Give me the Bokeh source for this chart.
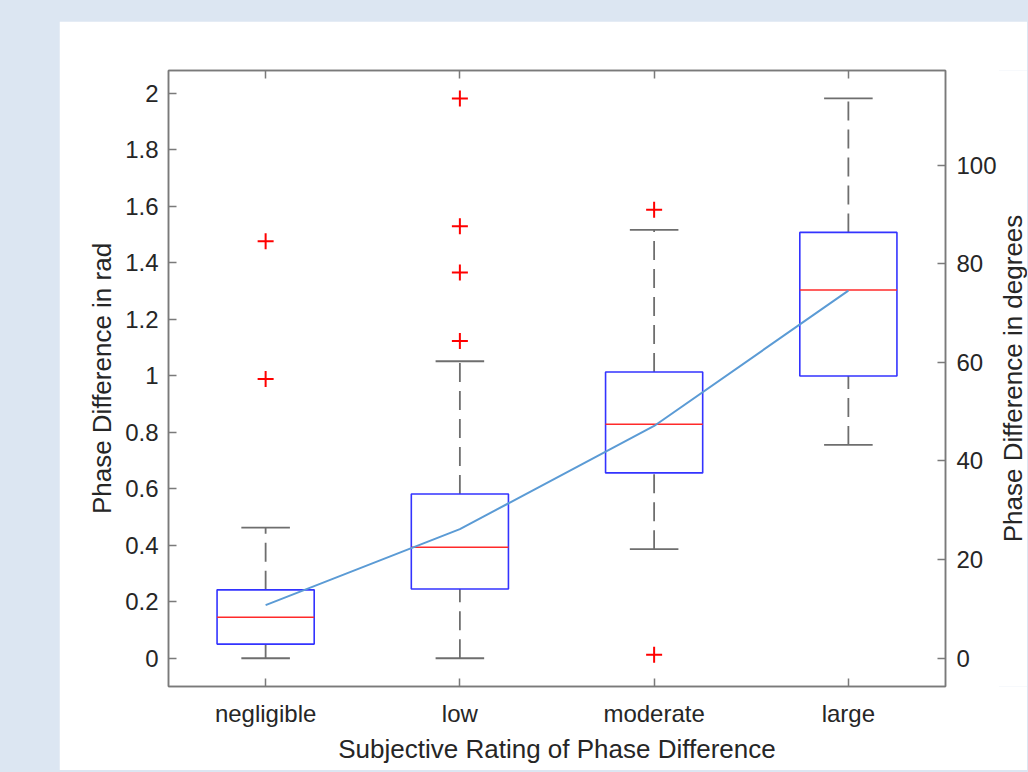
import numpy as np
from bokeh.plotting import figure
from bokeh.layouts import row
from bokeh.models import Range1d, LinearAxis, FixedTicker
from bokeh.core.properties import value
from bokeh.embed import file_html
from bokeh.resources import INLINE

# ---------------- data ----------------
categories = ["negligible", "low", "moderate", "large"]
q1 = [0.050, 0.245, 0.656, 0.999]
medians = [0.145, 0.393, 0.828, 1.303]
q3 = [0.242, 0.581, 1.013, 1.507]
whisker_low = [0.000, 0.000, 0.386, 0.755]
whisker_high = [0.462, 1.051, 1.516, 1.981]
means = [0.188, 0.457, 0.822, 1.301]
outlier_cat = ["negligible", "negligible", "low", "low", "low", "low", "moderate", "moderate"]
outlier_val = [0.988, 1.476, 1.123, 1.365, 1.529, 1.981, 1.587, 0.012]
rad_ticks = [0, 0.2, 0.4, 0.6, 0.8, 1, 1.2, 1.4, 1.6, 1.8, 2]
deg_ticks = [0, 20, 40, 60, 80, 100]
y_start, y_end = -0.1, 2.08
x_title = "Subjective Rating of Phase Difference"
y_title = "Phase Difference in rad"
y2_title = "Phase Difference in degrees"

x_pos = [i + 1 for i in range(len(categories))]
pos_of = {c: i + 1 for i, c in enumerate(categories)}
out_x = [pos_of[c] for c in outlier_cat]

FONT = "Liberation Sans"
AX = "#7a7a7a"
TXT = "#262626"

H = 749
B_TOP, B_BOTTOM = 49, 84
p = figure(width=940, height=H,
           x_range=Range1d(0.5, 4.5), y_range=Range1d(y_start, y_end),
           output_backend="svg", toolbar_location=None,
           min_border_left=109, min_border_right=53,
           min_border_top=B_TOP, min_border_bottom=B_BOTTOM,
           background_fill_color="white", border_fill_color="white")
p.margin = (21, 0, 0, 59)
p.xgrid.visible = False
p.ygrid.visible = False
p.outline_line_color = AX
p.outline_line_width = 1.5

bottom_axis = p.below[0]
left_axis = p.left[0]

p.extra_y_ranges = {"deg": Range1d(y_start * 180 / np.pi, y_end * 180 / np.pi)}
right_axis = LinearAxis(y_range_name="deg", ticker=FixedTicker(ticks=deg_ticks))
p.add_layout(right_axis, "right")
top_axis = LinearAxis(ticker=FixedTicker(ticks=x_pos), major_label_standoff=0)
p.add_layout(top_axis, "above")

bottom_axis.ticker = FixedTicker(ticks=x_pos)
bottom_axis.major_label_overrides = {x: c for x, c in zip(x_pos, categories)}
left_axis.ticker = FixedTicker(ticks=rad_ticks)
left_axis.major_label_overrides = {0: "0", 1: "1", 2: "2"}

for ax in (bottom_axis, left_axis, right_axis, top_axis):
    ax.axis_line_color = AX
    ax.axis_line_width = 1.5
    ax.major_tick_line_color = AX
    ax.major_tick_line_width = 1.5
    ax.major_tick_in = 8
    ax.major_tick_out = 0
    ax.minor_tick_line_color = None
    ax.major_label_text_font = FONT
    ax.major_label_text_color = TXT
    ax.major_label_text_font_size = "24px"
    ax.axis_label_text_font = FONT
    ax.axis_label_text_color = TXT
    ax.axis_label_text_font_style = "normal"
    ax.axis_label_text_font_size = "26px"

top_axis.major_label_text_color = None

bottom_axis.major_label_standoff = 13
bottom_axis.axis_label = x_title
bottom_axis.axis_label_standoff = 4

left_axis.major_label_standoff = 10
left_axis.axis_label = y_title
left_axis.axis_label_standoff = 5

right_axis.major_label_standoff = 11

# whiskers (dashed)
p.segment(x0=x_pos, y0=q3, x1=x_pos, y1=whisker_high, line_color="#6e6e6e",
          line_width=1.8, line_dash="19 9")
p.segment(x0=x_pos, y0=whisker_low, x1=x_pos, y1=q1, line_color="#6e6e6e",
          line_width=1.8, line_dash="19 9")
# caps
cap_half = 0.125
p.segment(x0=[x - cap_half for x in x_pos], y0=whisker_high,
          x1=[x + cap_half for x in x_pos], y1=whisker_high,
          line_color="#6e6e6e", line_width=1.8)
p.segment(x0=[x - cap_half for x in x_pos], y0=whisker_low,
          x1=[x + cap_half for x in x_pos], y1=whisker_low,
          line_color="#6e6e6e", line_width=1.8)
# boxes
p.vbar(x=x_pos, width=0.5, bottom=q1, top=q3, fill_color=None,
       line_color="#3333ff", line_width=1.6)
# medians
p.segment(x0=[x - 0.25 for x in x_pos], y0=medians,
          x1=[x + 0.25 for x in x_pos], y1=medians,
          line_color="#ff2a2a", line_width=1.6)
# outliers
p.scatter(x=out_x, y=outlier_val, marker="cross", size=16,
          line_color="#ff0000", line_width=2)
# mean line
p.line(x=x_pos, y=means, line_color="#5b9bd5", line_width=2)

# right-hand axis title (reads bottom-to-top), in a narrow strip figure
p2 = figure(width=29, height=H, x_range=Range1d(-1, 1), y_range=Range1d(-1, 1),
            output_backend="svg", toolbar_location=None,
            x_axis_location=None, y_axis_location=None,
            min_border_left=0, min_border_right=0,
            min_border_top=B_TOP, min_border_bottom=B_BOTTOM,
            outline_line_color=None,
            background_fill_color="white", border_fill_color="white")
p2.margin = (21, 0, 0, -1)
p2.xgrid.visible = False
p2.ygrid.visible = False
p2.text(x=[0], y=[0], text=[y2_title], angle=np.pi / 2,
        text_align="center", text_baseline="middle",
        text_font=value(FONT), text_font_size="26px", text_color=TXT)

layout = row(p, p2)
html = file_html(layout, INLINE)
html = html.replace("</head>", "<style>html,body{background-color:#dce6f2;}</style></head>", 1)
open("out.html", "w").write(html)
